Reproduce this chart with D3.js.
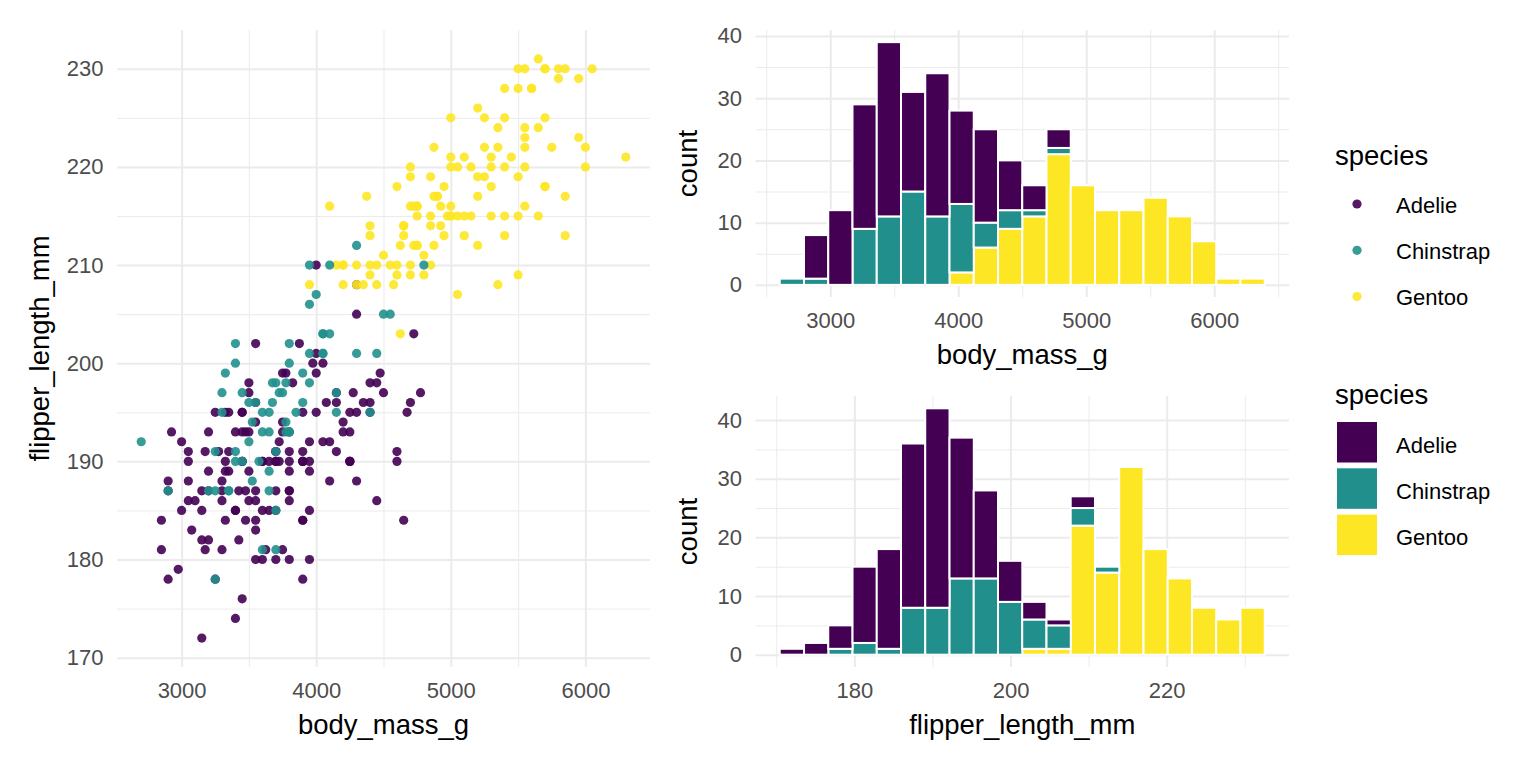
<!DOCTYPE html>
<html>
<head>
<meta charset="utf-8">
<script src="https://cdn.jsdelivr.net/npm/d3@7"></script>
<style>
  body { margin: 0; background: #fff; }
  svg { display: block; }
  svg text { font-family: "Liberation Sans", Arial, sans-serif; }
  .grid path, .axis path { display: none; }
  .grid line { stroke: #ebebeb; }
  .axis text { fill: #4d4d4d; font-size: 22px; }
  .title { fill: #000; font-size: 27.5px; }
  .legend-label { fill: #000; font-size: 22px; }
</style>
</head>
<body>
<script>
// penguins: [body_mass_g, flipper_length_mm], in data order
const adelie = [
  [3750,181],[3800,186],[3250,195],[3450,193],[3650,190],[3625,181],[4675,195],[3475,193],[4250,190],[3300,186],
  [3700,180],[3200,182],[3800,191],[4400,198],[3700,185],[3450,195],[4500,197],[3325,184],[4200,194],[3400,174],
  [3600,180],[3800,189],[3950,185],[3800,180],[3800,187],[3550,183],[3200,187],[3150,172],[3950,180],[3250,178],
  [3900,178],[3300,188],[3900,184],[3325,195],[4150,196],[3950,190],[3550,180],[3300,181],[4650,184],[3150,182],
  [3900,195],[3100,186],[4400,196],[3000,185],[4600,190],[3425,182],[2975,179],[3450,190],[4150,191],[3500,186],
  [4300,188],[3450,190],[4050,200],[2900,187],[3700,191],[3550,186],[3800,193],[2850,181],[3750,194],[3150,185],
  [4400,195],[3600,185],[4050,192],[2850,184],[3950,192],[3350,195],[4100,188],[3050,190],[4450,198],[3600,190],
  [3900,190],[3550,196],[4150,197],[3700,190],[4250,195],[3700,191],[3900,184],[3550,187],[4000,195],[3200,189],
  [4700,196],[3800,187],[4200,193],[3350,191],[3550,194],[3800,190],[3500,189],[3950,189],[3600,190],[3550,202],
  [4300,205],[3400,185],[4450,186],[3300,187],[4300,208],[3700,190],[4350,196],[2900,178],[4100,192],[3725,192],
  [4725,203],[3075,183],[4250,190],[2925,193],[3550,184],[3750,199],[3900,190],[3175,181],[4775,197],[3825,198],
  [4600,191],[3200,193],[4275,197],[3900,191],[4075,196],[2900,188],[3775,199],[3350,189],[3325,189],[3150,187],
  [3500,198],[3450,176],[3875,202],[3050,186],[4000,199],[3275,191],[4300,195],[3050,191],[4000,210],[3325,190],
  [3500,197],[3500,193],[4475,199],[3425,187],[3900,190],[3175,191],[3975,200],[3400,185],[4250,193],[3400,193],
  [3475,187],[3050,188],[3725,190],[3000,192],[3650,185],[4250,190],[3475,184],[3450,195],[3750,193],[3700,187],
  [4000,201]
];
const gentoo = [
  [4500,211],[5700,230],[4450,210],[5700,218],[5400,215],[4550,210],[4800,211],[5200,219],[4400,209],[5150,215],
  [4650,214],[5550,216],[4650,214],[5850,213],[4200,210],[5850,217],[4150,210],[6300,221],[4800,209],[5350,222],
  [5700,218],[5000,215],[4400,213],[5050,215],[5000,215],[5100,215],[4100,216],[5650,215],[4600,210],[5550,220],
  [5250,222],[4700,209],[5050,207],[6050,230],[5150,220],[5400,220],[4950,213],[5250,219],[4350,208],[5350,208],
  [3950,208],[5700,225],[4300,210],[4750,216],[5550,222],[4900,217],[4200,210],[5400,225],[5100,213],[5300,215],
  [4850,210],[5300,220],[4400,210],[5000,225],[4900,217],[5050,220],[4300,208],[5000,220],[4450,208],[5550,224],
  [4200,208],[5300,221],[4400,214],[5650,231],[4700,219],[5700,230],[4650,214],[5800,229],[4700,220],[5550,223],
  [4750,216],[5000,221],[5100,221],[5200,217],[4700,216],[5800,230],[4600,209],[6000,220],[4750,215],[5950,223],
  [4625,212],[5450,221],[4725,212],[5350,224],[4750,212],[5600,228],[4600,218],[5300,218],[4875,212],[5550,230],
  [4950,218],[5400,228],[4750,212],[5650,224],[4850,214],[5200,226],[4925,216],[4875,222],[4625,203],[5250,225],
  [4850,219],[5600,228],[4975,215],[5500,228],[4725,216],[5500,215],[4700,210],[5500,219],[4575,208],[5500,209],
  [5000,216],[5950,229],[4650,213],[5500,230],[4375,217],[5850,230],[4875,217],[6000,222],[4925,214],[4850,215],
  [5750,222],[5200,212],[5400,213]
];
const chinstrap = [
  [3500,192],[3900,196],[3650,193],[3525,188],[3725,197],[3950,198],[3250,178],[3750,197],[4150,195],[3700,198],
  [3800,193],[3775,194],[3700,185],[4050,201],[3575,190],[4050,201],[3300,197],[3700,181],[3450,190],[4400,195],
  [3600,181],[3400,191],[2900,187],[3800,193],[3300,195],[4150,197],[3400,200],[3800,200],[3700,191],[4550,205],
  [3200,187],[4300,201],[3350,187],[4100,203],[3600,195],[3900,199],[3850,195],[4800,210],[2700,192],[4500,205],
  [3950,210],[3650,187],[3550,196],[3500,196],[3675,196],[4450,201],[3400,190],[4300,212],[3250,187],[3675,198],
  [3325,199],[3950,201],[3600,193],[4050,203],[3350,187],[3450,197],[3250,191],[4050,203],[3800,202],[3525,194],
  [3950,206],[3650,189],[3650,195],[4000,207],[3400,202],[3775,193],[4100,210],[3775,198]
];

// histogram bins (centres) and counts per species
const massBinCenters = [2700, 2889.5, 3078.9, 3268.4, 3457.9, 3647.4, 3836.8, 4026.3, 4215.8, 4405.3,
  4594.7, 4784.2, 4973.7, 5163.2, 5352.6, 5542.1, 5731.6, 5921.1, 6110.5, 6300];
const massAdelie    = [0, 7, 12, 20, 28, 16, 23, 15, 15, 8, 4, 3, 0, 0, 0, 0, 0, 0, 0, 0];
const massChinstrap = [1, 1, 0, 9, 11, 15, 11, 11, 4, 3, 1, 1, 0, 0, 0, 0, 0, 0, 0, 0];
const massGentoo    = [0, 0, 0, 0, 0, 0, 0, 2, 6, 9, 11, 21, 16, 12, 12, 14, 11, 7, 1, 1];

const flipperBinCenters = [172, 175.11, 178.21, 181.32, 184.42, 187.53, 190.63, 193.74, 196.84, 199.95,
  203.05, 206.16, 209.26, 212.37, 215.47, 218.58, 221.68, 224.79, 227.89, 231];
const flipperAdelie    = [1, 2, 4, 13, 17, 28, 34, 24, 15, 7, 3, 1, 2, 0, 0, 0, 0, 0, 0, 0];
const flipperChinstrap = [0, 0, 1, 2, 1, 8, 8, 13, 13, 9, 5, 4, 3, 1, 0, 0, 0, 0, 0, 0];
const flipperGentoo    = [0, 0, 0, 0, 0, 0, 0, 0, 0, 0, 1, 1, 22, 14, 32, 18, 13, 8, 6, 8];

const species = ["Adelie", "Chinstrap", "Gentoo"];
const colors = ["#440154", "#21908C", "#FDE725"];

const massTicks = [3000, 4000, 5000, 6000];
const massMinor = [2500, 3500, 4500, 5500, 6500];
const flipperTicks = [170, 180, 190, 200, 210, 220, 230];
const flipperMinor = [175, 185, 195, 205, 215, 225];
const histFlipperTicks = [180, 200, 220];
const histFlipperMinor = [170, 190, 210, 230];
const countTicks = [0, 10, 20, 30, 40];
const countMinor = [5, 15, 25, 35];

const WIDTH = 1536, HEIGHT = 768;
const color = d3.scaleOrdinal().domain(species).range(colors);
const svg = d3.select("body").append("svg").attr("width", WIDTH).attr("height", HEIGHT);

const scatterBox = { left: 117, right: 650, top: 30, bottom: 667 };
const massBox = { left: 755.5, right: 1289, top: 30, bottom: 297 };
const flipperBox = { left: 755.5, right: 1289, top: 396, bottom: 667 };

// ggplot-style 5% expansion
const expand = ([a, b]) => [a - (b - a) * 0.05, b + (b - a) * 0.05];
const inside = (scale, vals) => {
  const [a, b] = scale.domain();
  return vals.filter(v => v >= a && v <= b);
};

const drawFrame = (box, x, y, xt, xm, yt, ym) => {
  const w = box.right - box.left, h = box.bottom - box.top;
  const vGrid = (vals, sw) =>
    svg.append("g").attr("class", "grid")
      .attr("transform", `translate(0,${box.bottom})`)
      .call(d3.axisBottom(x).tickValues(inside(x, vals)).tickSize(-h).tickFormat(""))
      .call(g => g.selectAll("line").attr("stroke-width", sw));
  const hGrid = (vals, sw) =>
    svg.append("g").attr("class", "grid")
      .attr("transform", `translate(${box.left},0)`)
      .call(d3.axisLeft(y).tickValues(inside(y, vals)).tickSize(-w).tickFormat(""))
      .call(g => g.selectAll("line").attr("stroke-width", sw));
  hGrid(ym, 1);
  vGrid(xm, 1);
  hGrid(yt, 2);
  vGrid(xt, 2);

  svg.append("g").attr("class", "axis")
    .attr("transform", `translate(0,${box.bottom})`)
    .call(d3.axisBottom(x).tickValues(xt).tickSize(0).tickPadding(15).tickFormat(d3.format("d")));
  svg.append("g").attr("class", "axis")
    .attr("transform", `translate(${box.left},0)`)
    .call(d3.axisLeft(y).tickValues(yt).tickSize(0).tickPadding(13.5).tickFormat(d3.format("d")));
};

const axisTitles = (box, xTitle, yTitle, yTitleX) => {
  svg.append("text").attr("class", "title")
    .attr("x", (box.left + box.right) / 2)
    .attr("y", box.bottom + 67)
    .attr("text-anchor", "middle")
    .text(xTitle);
  svg.append("text").attr("class", "title")
    .attr("transform", `translate(${yTitleX},${(box.top + box.bottom) / 2}) rotate(-90)`)
    .attr("text-anchor", "middle")
    .text(yTitle);
};

//scatter
const allPoints = adelie.concat(gentoo, chinstrap);
const sx = d3.scaleLinear()
  .domain(expand(d3.extent(allPoints, d => d[0])))
  .range([scatterBox.left, scatterBox.right]);
const sy = d3.scaleLinear()
  .domain(expand(d3.extent(allPoints, d => d[1])))
  .range([scatterBox.bottom, scatterBox.top]);
drawFrame(scatterBox, sx, sy, massTicks, massMinor, flipperTicks, flipperMinor);

const pointGroups = [["Adelie", adelie], ["Gentoo", gentoo], ["Chinstrap", chinstrap]];
pointGroups.forEach(([name, pts]) => {
  svg.append("g")
    .selectAll("circle")
    .data(pts)
    .enter()
    .append("circle")
    .attr("cx", d => sx(d[0]))
    .attr("cy", d => sy(d[1]))
    .attr("r", 4.6)
    .attr("fill", color(name))
    .attr("fill-opacity", 0.9);
});
axisTitles(scatterBox, "body_mass_g", "flipper_length_mm", 49);

//stacked histograms
const stack = d3.stack().keys(["Gentoo", "Chinstrap", "Adelie"]);

const drawHistogram = (box, centers, counts, xt, xm, xTitle) => {
  const rows = centers.map((c, i) => ({
    x: c, Adelie: counts[0][i], Chinstrap: counts[1][i], Gentoo: counts[2][i]
  }));
  const bw = centers[1] - centers[0];
  const x = d3.scaleLinear()
    .domain(expand([centers[0] - bw / 2, centers[centers.length - 1] + bw / 2]))
    .range([box.left, box.right]);
  const maxCount = d3.max(rows, d => d.Adelie + d.Chinstrap + d.Gentoo);
  const y = d3.scaleLinear()
    .domain(expand([0, maxCount]))
    .range([box.bottom, box.top]);
  drawFrame(box, x, y, xt, xm, countTicks, countMinor);

  svg.append("g")
    .selectAll("g")
    .data(stack(rows))
    .enter()
    .append("g")
    .attr("fill", s => color(s.key))
    .selectAll("rect")
    .data(s => s.filter(d => d[1] > d[0]))
    .enter()
    .append("rect")
    .attr("x", d => x(d.data.x - bw / 2))
    .attr("width", d => x(d.data.x + bw / 2) - x(d.data.x - bw / 2))
    .attr("y", d => y(d[1]))
    .attr("height", d => y(d[0]) - y(d[1]))
    .attr("stroke", "#fff")
    .attr("stroke-width", 2);

  axisTitles(box, xTitle, "count", 697);
};

drawHistogram(massBox, massBinCenters, [massAdelie, massChinstrap, massGentoo],
  massTicks, massMinor, "body_mass_g");
drawHistogram(flipperBox, flipperBinCenters, [flipperAdelie, flipperChinstrap, flipperGentoo],
  histFlipperTicks, histFlipperMinor, "flipper_length_mm");

//legends
const legendX = 1335;
const pointLegend = svg.append("g");
pointLegend.append("text").attr("class", "title")
  .attr("x", legendX).attr("y", 155).attr("dominant-baseline", "central")
  .text("species");
species.forEach((s, i) => {
  pointLegend.append("circle")
    .attr("cx", legendX + 22).attr("cy", 204 + i * 46.3)
    .attr("r", 4.6).attr("fill", color(s)).attr("fill-opacity", 0.9);
  pointLegend.append("text").attr("class", "legend-label")
    .attr("x", legendX + 61).attr("y", 205 + i * 46.3).attr("dominant-baseline", "central")
    .text(s);
});

const fillLegend = svg.append("g");
fillLegend.append("text").attr("class", "title")
  .attr("x", legendX).attr("y", 394).attr("dominant-baseline", "central")
  .text("species");
species.forEach((s, i) => {
  fillLegend.append("rect")
    .attr("x", legendX + 2).attr("y", 422 + i * 46.3)
    .attr("width", 40).attr("height", 40.5)
    .attr("fill", color(s));
  fillLegend.append("text").attr("class", "legend-label")
    .attr("x", legendX + 61).attr("y", 445 + i * 46.3).attr("dominant-baseline", "central")
    .text(s);
});
</script>
</body>
</html>
